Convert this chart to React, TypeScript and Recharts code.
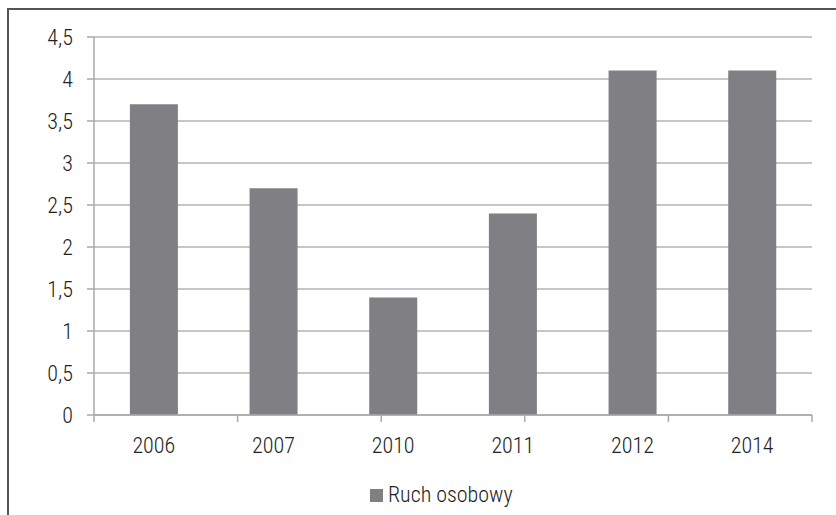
import React from "react";
import { Bar, BarChart, CartesianGrid, Legend, XAxis, YAxis } from "recharts";

const YEARS = ["2006", "2007", "2010", "2011", "2012", "2014"];
const PASSENGER = [3.7, 2.7, 1.4, 2.4, 4.1, 4.1];
const Y_TICKS = [0, 0.5, 1, 1.5, 2, 2.5, 3, 3.5, 4, 4.5];
const EDGE_TICKS = [0, 1, 2, 3, 4, 5, 6];
const SERIES_NAME = "Ruch osobowy";

const data = YEARS.map((year, i) => ({ year, value: PASSENGER[i] }));

const FONT = "'Roboto Condensed', 'Liberation Sans Narrow', sans-serif";
const BAR = "#7f7f84";
const AXIS = "#a9a9ad";
const INK = "#222";
const TICK_STYLE = { fill: INK, fontSize: 22, fontFamily: FONT, fontWeight: 300 };

function LegendBox() {
  return (
    <div style={{ display: "flex", alignItems: "center", gap: 5, fontFamily: FONT, fontWeight: 300, fontSize: 22, color: INK, lineHeight: 1 }}>
      <span style={{ display: "inline-block", width: 13, height: 13, background: BAR }} />
      <span>{SERIES_NAME}</span>
    </div>
  );
}

export default function App() {
  return (
    <div style={{ position: "absolute", left: 0, top: 0, width: 836, height: 515, background: "#fff", overflow: "hidden" }}>
      <div
        style={{
          position: "absolute",
          left: 7,
          top: 8,
          width: 836,
          height: 515,
          borderLeft: "2px solid #555",
          borderTop: "2px solid #555",
        }}
      />
      <BarChart
        width={836}
        height={515}
        data={data}
        margin={{ top: 37, right: 24, left: 34, bottom: 69 }}
        barCategoryGap="30%"
        style={{ position: "absolute", left: 0, top: 0 }}
      >
        <CartesianGrid xAxisId="b" vertical={false} stroke="#b3b3b6" strokeWidth={1.5} />
        <XAxis
          xAxisId="a"
          type="number"
          domain={[0, 6]}
          ticks={EDGE_TICKS}
          interval={0}
          tick={{ fontSize: 0 }}
          tickFormatter={() => ""}
          axisLine={{ stroke: AXIS, strokeWidth: 1.5 }}
          tickLine={{ stroke: AXIS, strokeWidth: 1.5 }}
          tickSize={7}
          height={1}
        />
        <XAxis
          xAxisId="b"
          dataKey="year"
          axisLine={false}
          tickLine={false}
          tickSize={6}
          tickMargin={15}
          height={30}
          tick={TICK_STYLE}
        />
        <YAxis
          width={60}
          domain={[0, 4.5]}
          ticks={Y_TICKS}
          interval={0}
          tickSize={7}
          tickMargin={14}
          axisLine={{ stroke: AXIS, strokeWidth: 1.5 }}
          tickLine={{ stroke: AXIS, strokeWidth: 1.5 }}
          tick={TICK_STYLE}
          tickFormatter={(v: number) => String(v).replace(".", ",")}
        />
        <Legend
          layout="vertical"
          align="center"
          verticalAlign="middle"
          content={() => <LegendBox />}
          wrapperStyle={{ top: 484, left: 370, width: "auto" }}
        />
        <Bar xAxisId="b" dataKey="value" name={SERIES_NAME} fill={BAR} isAnimationActive={false} />
      </BarChart>
    </div>
  );
}
